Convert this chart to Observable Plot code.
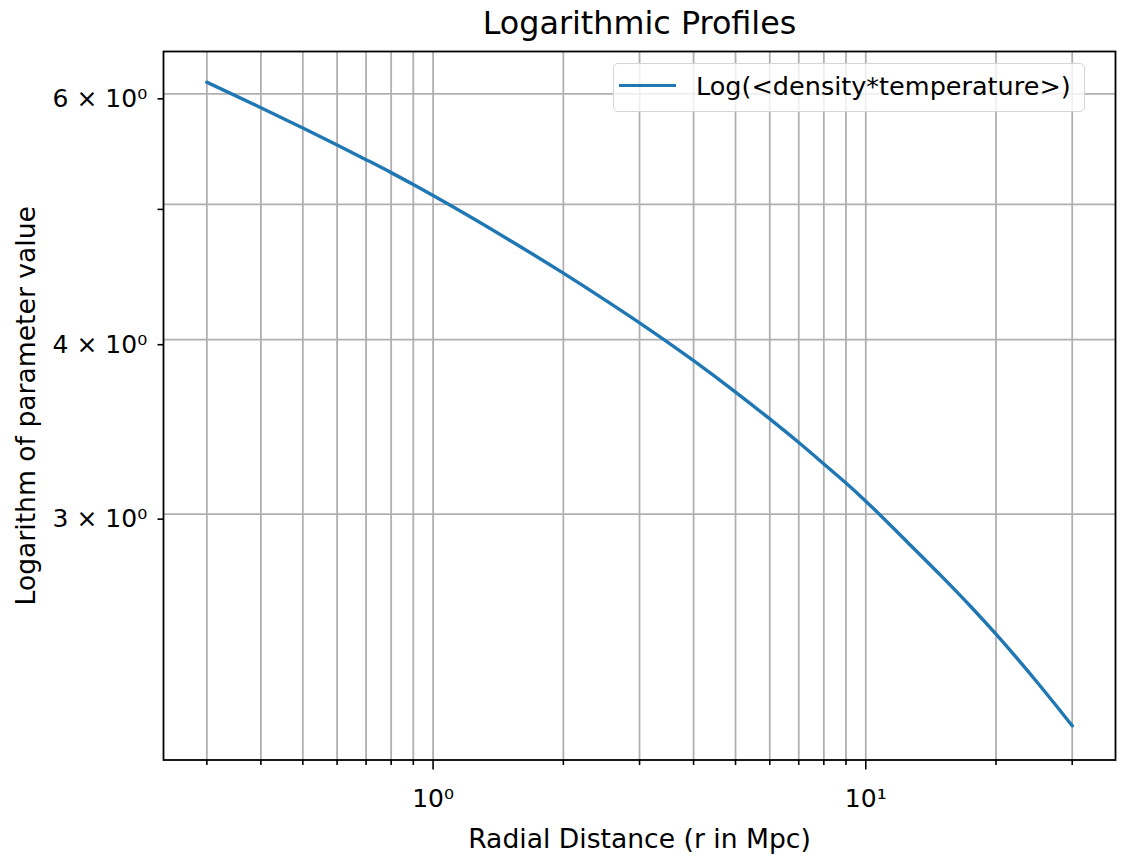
<!DOCTYPE html>
<html>
<head>
<meta charset="utf-8">
<script src="https://cdn.jsdelivr.net/npm/d3@7"></script>
<script src="https://cdn.jsdelivr.net/npm/@observablehq/plot@0.6"></script>
<style>
  html, body { margin: 0; padding: 0; background: #fff; }
  #figure { position: relative; width: 1123px; height: 856px; font-family: "DejaVu Sans", sans-serif; }
  #legend {
    position: absolute; left: 613px; top: 63px; width: 470px; height: 47px;
    border: 1.5px solid #d6d6d6; border-radius: 5px; background: rgba(255,255,255,0.8);
    box-sizing: content-box;
  }
  #legend .swatch { position: absolute; left: 5px; top: 20px; width: 57px; height: 3.4px; background: #1f77b4; }
  #legend .label { position: absolute; left: 82px; top: 6px; font-size: 25.5px; line-height: 32px; color: #000; white-space: nowrap; }
</style>
</head>
<body>
<div id="figure"></div>
<script>
// Radial profile of log(<density*temperature>)
const radius = [0.3, 0.4, 0.5, 0.6, 0.7, 0.8, 0.9, 1, 1.5, 2, 2.5, 3, 4, 5, 6, 7, 8, 9, 10, 12.5, 15, 17.5, 20, 22.5, 25, 27.5, 30];
const logValue = [6.116, 5.864, 5.671, 5.515, 5.383, 5.269, 5.166, 5.073, 4.715, 4.464, 4.270, 4.113, 3.864, 3.669, 3.510, 3.376, 3.259, 3.158, 3.065, 2.863, 2.706, 2.575, 2.461, 2.360, 2.270, 2.189, 2.116];

// Tick positions
const xMajorTicks = [1, 10];
const xMajorLabels = ["10\u2070", "10\u00b9"];
const xMinorTicks = [0.3, 0.4, 0.5, 0.6, 0.7, 0.8, 0.9, 2, 3, 4, 5, 6, 7, 8, 9, 20, 30];
const yTicks = [3, 4, 5, 6];
const yTickLabels = ["3 \u00d7 10\u2070", "4 \u00d7 10\u2070", "", "6 \u00d7 10\u2070"];

const seriesName = "Log(<density*temperature>)";
const title = "Logarithmic Profiles";
const xLabel = "Radial Distance (r in Mpc)";
const yLabel = "Logarithm of parameter value";

const profile = radius.map((r, i) => ({r, v: logValue[i]}));
const gridColor = "#b0b0b0";

const chart = Plot.plot({
  width: 1123,
  height: 856,
  marginLeft: 163,
  marginRight: 8,
  marginTop: 51,
  marginBottom: 96.5,
  style: {fontFamily: "DejaVu Sans, sans-serif", fontSize: "25px", color: "#000", background: "#fff"},
  x: {type: "log", domain: [0.2382, 37.77]},
  y: {type: "log", domain: [2.0, 6.434]},
  marks: [
    Plot.ruleX([...xMinorTicks, ...xMajorTicks], {stroke: gridColor, strokeWidth: 1.8}),
    Plot.ruleY(yTicks, {stroke: gridColor, strokeWidth: 1.8}),
    Plot.line(profile, {x: "r", y: "v", stroke: "#1f77b4", strokeWidth: 3.4, curve: "monotone-x"}),
    Plot.frame({stroke: "#000", strokeWidth: 1.8}),
    Plot.axisX(xMinorTicks, {tickSize: 5.5, tickFormat: () => "", strokeWidth: 1.6, label: null}),
    Plot.axisX(xMajorTicks, {
      tickSize: 10, tickPadding: 19.5, strokeWidth: 1.6, fontSize: 25, label: null,
      tickFormat: d => xMajorLabels[xMajorTicks.indexOf(d)]
    }),
    Plot.axisY(yTicks, {
      tickSize: 5.5, tickPadding: 10.8, strokeWidth: 1.6, fontSize: 25, label: null, dy: 5,
      tickFormat: d => yTickLabels[yTicks.indexOf(d)]
    }),
    Plot.text([title], {text: d => d, frameAnchor: "top", textAnchor: "middle", lineAnchor: "middle", dy: -28, fontSize: 31.8, fill: "#000"}),
    Plot.text([xLabel], {text: d => d, frameAnchor: "bottom", textAnchor: "middle", lineAnchor: "middle", dy: 79, fontSize: 26.6, fill: "#000"}),
    Plot.text([yLabel], {text: d => d, frameAnchor: "left", textAnchor: "middle", lineAnchor: "middle", dx: -137, rotate: -90, fontSize: 26.6, fill: "#000"})
  ]
});

const fig = document.getElementById("figure");
fig.appendChild(chart);

// Legend box in the upper right of the plotting area
const legend = document.createElement("div");
legend.id = "legend";
legend.innerHTML = `<div class="swatch"></div><div class="label"></div>`;
legend.querySelector(".label").textContent = seriesName;
fig.appendChild(legend);
</script>
</body>
</html>
